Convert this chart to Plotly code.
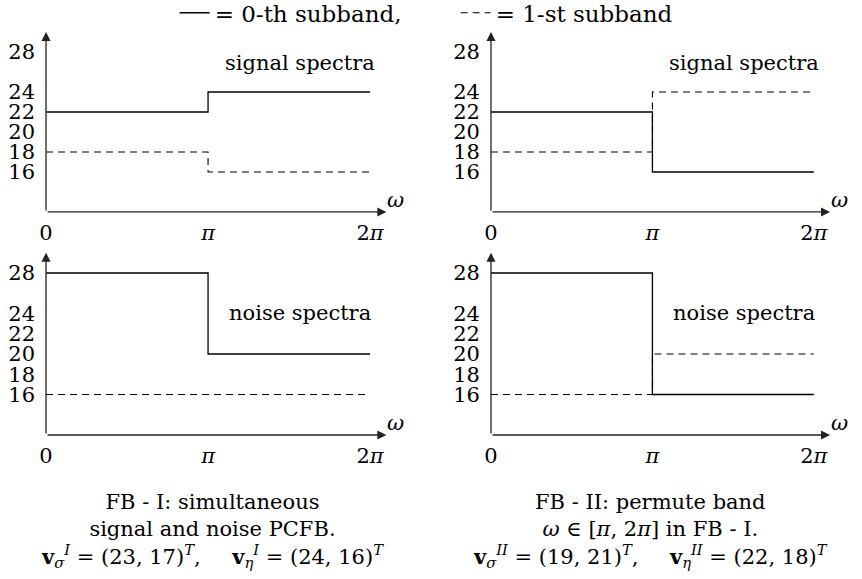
import math
import plotly.graph_objects as go

PI = math.pi
# band edges (omega)
omega = [0, PI, 2 * PI]
x_tick_vals = [0, PI, 2 * PI]
x_tick_text = ["0", "<i>π</i>", "2<i>π</i>"]
y_tick_vals = [16, 18, 20, 22, 24, 28]
y_tick_text = ["16", "18", "20", "22", "24", "28"]

# spectra levels on [0, pi] and [pi, 2pi]
signal_fb1_sub0 = [22, 24]
signal_fb1_sub1 = [18, 16]
noise_fb1_sub0 = [28, 20]
noise_fb1_sub1 = [16, 16]
signal_fb2_sub0 = [22, 16]
signal_fb2_sub1 = [18, 24]
noise_fb2_sub0 = [28, 16]
noise_fb2_sub1 = [16, 20]

legend_names = ["= 0-th subband,", "= 1-st subband"]
panel_titles = ["signal spectra", "signal spectra", "noise spectra", "noise spectra"]
captions = [
    "FB - I: simultaneous<br>signal and noise PCFB.<br>"
    "<b>v</b><sub><i>σ</i></sub><sup><i>I</i></sup> = (23, 17)<sup><i>T</i></sup>,\u2003\u2002"
    "<b>v</b><sub><i>η</i></sub><sup><i>I</i></sup> = (24, 16)<sup><i>T</i></sup>",
    "FB - II: permute band<br><i>ω</i> ∈ [<i>π</i>, 2<i>π</i>] in FB - I.<br>"
    "<b>v</b><sub><i>σ</i></sub><sup><i>II</i></sup> = (19, 21)<sup><i>T</i></sup>,\u2003\u2002"
    "<b>v</b><sub><i>η</i></sub><sup><i>II</i></sup> = (22, 18)<sup><i>T</i></sup>",
]

FONT = "DejaVu Serif"
FS = 21
INK = "black"
AX_END = 6.6   # arrow tip of the omega axis
Y_LO, Y_TOP = 12, 30

panels = [
    # (xaxis id, yaxis id, sub0, sub1, title)
    ("x", "y", signal_fb1_sub0, signal_fb1_sub1, panel_titles[0]),
    ("x2", "y2", signal_fb2_sub0, signal_fb2_sub1, panel_titles[1]),
    ("x3", "y3", noise_fb1_sub0, noise_fb1_sub1, panel_titles[2]),
    ("x4", "y4", noise_fb2_sub0, noise_fb2_sub1, panel_titles[3]),
]

fig = go.Figure()
annotations = []
for i, (xa, ya, s0, s1, title) in enumerate(panels):
    fig.add_trace(go.Scatter(
        x=omega, y=[s0[0], s0[1], s0[1]], mode="lines", line_shape="hv",
        line=dict(color=INK, width=1.3), xaxis=xa, yaxis=ya,
        name=legend_names[0], showlegend=(i == 0), hoverinfo="skip"))
    fig.add_trace(go.Scatter(
        x=omega, y=[s1[0], s1[1], s1[1]], mode="lines", line_shape="hv",
        line=dict(color=INK, width=1.1, dash="7px,5px"), xaxis=xa, yaxis=ya,
        name=legend_names[1], showlegend=(i == 0), hoverinfo="skip"))
    # axes drawn as arrows
    annotations.append(dict(x=AX_END, y=Y_LO, ax=0, ay=Y_LO, xref=xa, yref=ya, axref=xa, ayref=ya,
                            text="", showarrow=True, arrowhead=2, arrowsize=1.4,
                            arrowwidth=1.3, arrowcolor="#222"))
    annotations.append(dict(x=0, y=Y_TOP, ax=0, ay=Y_LO, xref=xa, yref=ya, axref=xa, ayref=ya,
                            text="", showarrow=True, arrowhead=2, arrowsize=1.4,
                            arrowwidth=1.3, arrowcolor="#222"))
    annotations.append(dict(x=AX_END, y=Y_LO, xref=xa, yref=ya, text="<i>ω</i>", showarrow=False,
                            xshift=9, yshift=12, font=dict(family=FONT, size=FS, color=INK)))
    ty = 26.9 if i < 2 else 24.0
    annotations.append(dict(x=4.92, y=ty, xref=xa, yref=ya, text=title, showarrow=False,
                            font=dict(family=FONT, size=FS, color=INK)))

annotations.append(dict(x=0.247, y=0.0834, xref="paper", yref="paper", text=captions[0],
                        showarrow=False, align="center", xanchor="center", yanchor="middle",
                        font=dict(family=FONT, size=FS, color=INK)))
annotations.append(dict(x=0.755, y=0.0834, xref="paper", yref="paper", text=captions[1],
                        showarrow=False, align="center", xanchor="center", yanchor="middle",
                        font=dict(family=FONT, size=FS, color=INK)))

x_range = [0, AX_END]
y_range = [Y_LO, Y_TOP]
x_doms = [[0.0534, 0.4483], [0.5696, 0.963]]
y_doms = [[0.6339, 0.9447], [0.2487, 0.5635]]

def xax(dom, anchor):
    return dict(domain=dom, range=x_range, anchor=anchor, showgrid=False, zeroline=False,
                showline=False, ticks="", tickvals=x_tick_vals, ticktext=x_tick_text,
                ticklabelstandoff=6, tickfont=dict(family=FONT, size=FS, color=INK),
                fixedrange=True, automargin=False)

def yax(dom, anchor):
    return dict(domain=dom, range=y_range, anchor=anchor, showgrid=False, zeroline=False,
                showline=False, ticks="", tickvals=y_tick_vals, ticktext=y_tick_text,
                ticklabelstandoff=10, tickfont=dict(family=FONT, size=FS, color=INK),
                fixedrange=True, automargin=False)

fig.update_layout(
    width=862, height=579,
    margin=dict(l=0, r=0, t=0, b=0, autoexpand=False),
    paper_bgcolor="white", plot_bgcolor="white",
    font=dict(family=FONT, size=FS, color=INK),
    xaxis=xax(x_doms[0], "y"), yaxis=yax(y_doms[0], "x"),
    xaxis2=xax(x_doms[1], "y2"), yaxis2=yax(y_doms[0], "x2"),
    xaxis3=xax(x_doms[0], "y3"), yaxis3=yax(y_doms[1], "x3"),
    xaxis4=xax(x_doms[1], "y4"), yaxis4=yax(y_doms[1], "x4"),
    showlegend=True,
    legend=dict(orientation="h", x=0.2026, y=1.015, xanchor="left", yanchor="top",
                font=dict(family=FONT, size=23, color=INK), bgcolor="rgba(0,0,0,0)",
                entrywidth=236, entrywidthmode="pixels", tracegroupgap=0),
    annotations=annotations,
)

fig.write_html("out.html", config={"displayModeBar": False},
               post_script="document.body.style.margin='0';")
